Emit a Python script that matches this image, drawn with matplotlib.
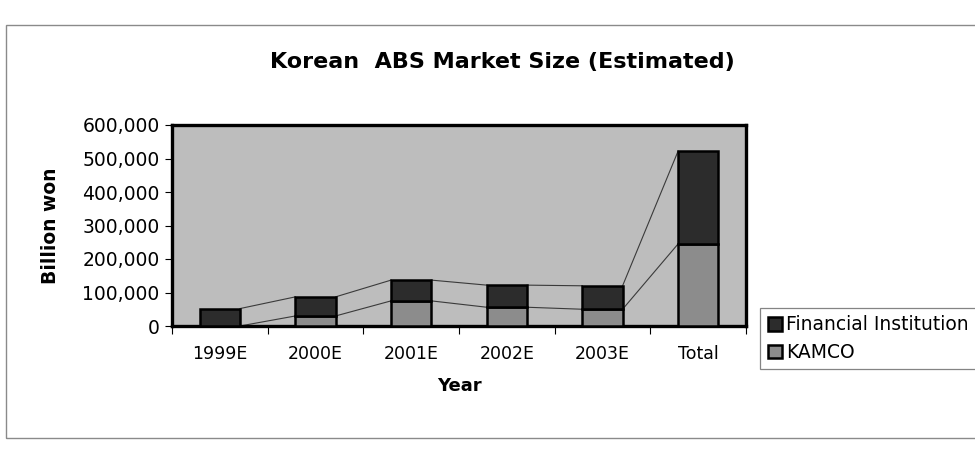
import numpy as np
import matplotlib.pyplot as plt
from matplotlib.patches import Rectangle
from matplotlib.ticker import FuncFormatter

# data (billion won)
years = ['1999E', '2000E', '2001E', '2002E', '2003E', 'Total']
kamco = [0, 30000, 75000, 56000, 50000, 245000]
fin_inst = [52000, 57000, 62000, 66000, 70000, 277000]

W, H = 975, 451
fig = plt.figure(figsize=(W / 100, H / 100), dpi=100)
fig.patch.set_facecolor('white')

# thin outer chart frame
fig.patches.append(Rectangle((6 / W, 1 - 438 / H), 1.2, (438 - 25) / H,
                             transform=fig.transFigure, fill=False,
                             edgecolor='#8a8a8a', linewidth=1))

ax = fig.add_axes([172 / W, 1 - 326 / H, 574 / W, 201 / H])
ax.set_facecolor('#bdbdbd')

x = np.arange(len(years))
width = 0.42
c_kamco = '#8c8c8c'
c_fin = '#2c2c2c'

ax.bar(x, kamco, width, color=c_kamco, edgecolor='black', linewidth=1.8,
       label='KAMCO', zorder=3)
ax.bar(x, fin_inst, width, bottom=kamco, color=c_fin, edgecolor='black',
       linewidth=1.8, label='Financial Institution', zorder=3)

# series lines between stacked segments
tops_k = np.array(kamco)
tops_t = tops_k + np.array(fin_inst)
for tops in (tops_k, tops_t):
    for i in range(len(x) - 1):
        ax.plot([x[i] + width / 2, x[i + 1] - width / 2], [tops[i], tops[i + 1]],
                color='#3a3a3a', linewidth=0.8, zorder=2)

ax.set_xlim(-0.5, len(years) - 0.5)
ax.set_ylim(0, 600000)
ax.set_yticks(np.arange(0, 600001, 100000))
ax.yaxis.set_major_formatter(FuncFormatter(lambda v, p: f'{int(v):,}'))

ax.set_xticks(np.arange(-0.5, len(years), 1.0))
ax.set_xticklabels([])
ax.set_xticks(x, minor=True)
ax.set_xticklabels(years, minor=True)
ax.tick_params(axis='x', which='major', length=6, width=0.8, direction='out')
ax.tick_params(axis='x', which='minor', length=0, pad=14, labelsize=12.5)
ax.tick_params(axis='y', length=5, width=0.8, direction='out', pad=4, labelsize=13.5)

for s in ax.spines.values():
    s.set_linewidth(2.4)
    s.set_color('black')

ax.set_xlabel('Year', fontsize=13, fontweight='bold', labelpad=10)
ax.set_ylabel('Billion won', fontsize=13.5, fontweight='bold', labelpad=16)

fig.text(502 / W, 1 - 62 / H, 'Korean  ABS Market Size (Estimated)',
         ha='center', va='center', fontsize=16, fontweight='bold')

h, l = ax.get_legend_handles_labels()
leg = fig.legend(h[::-1], l[::-1], loc='upper left',
                 bbox_to_anchor=(760 / W, 1 - 308 / H), fontsize=13.5,
                 frameon=True, fancybox=False, handlelength=0.75,
                 handleheight=0.75, handletextpad=0.25, borderpad=0.4,
                 labelspacing=0.45, borderaxespad=0)
leg.get_frame().set_edgecolor('#666666')
leg.get_frame().set_linewidth(0.9)

fig.savefig('out.png', dpi=100)
